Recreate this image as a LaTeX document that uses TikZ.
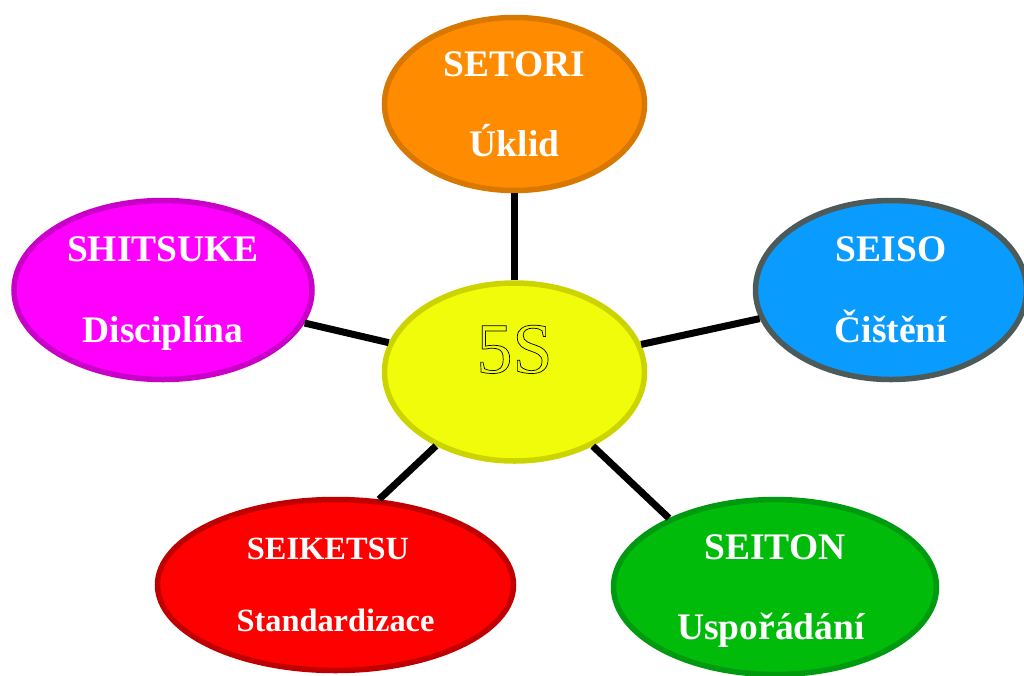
\documentclass[tikz,border=0pt]{standalone}
\usepackage{fontspec}
\setmainfont{Liberation Serif}
\usepackage{xcolor}
\usetikzlibrary{positioning,shapes.geometric}

\definecolor{setoriFill}{HTML}{FF8C00}
\definecolor{setoriLine}{HTML}{D97800}
\definecolor{shitsukeFill}{HTML}{FF00FF}
\definecolor{shitsukeLine}{HTML}{C800C8}
\definecolor{seisoFill}{HTML}{0A9BFF}
\definecolor{seisoLine}{HTML}{4D5A5A}
\definecolor{seiketsuFill}{HTML}{FF0000}
\definecolor{seiketsuLine}{HTML}{C00000}
\definecolor{seitonFill}{HTML}{00BB0A}
\definecolor{seitonLine}{HTML}{009A10}
\definecolor{coreFill}{HTML}{F0FC0A}
\definecolor{coreLine}{HTML}{CCD400}

% hollow letters: stroke only
\newcommand{\hollowtext}[1]{%
  \special{pdf:literal direct 1 Tr 0.7 w}#1\special{pdf:literal direct 0 Tr}}

\begin{document}
\begin{tikzpicture}[
    x=1pt, y=-1pt,
    pillar/.style={
      shape=ellipse, line width=5.5pt, inner sep=0pt, align=center,
      text=white, text depth=0pt, draw=#1Line, fill=#1Fill},
    link/.style={line width=7pt, draw=black}]
  \useasboundingbox (0,0) rectangle (1024,675);

  \node[pillar=core, minimum width=260, minimum height=178, text=black,
    text depth=46pt, font=\fontsize{72}{80}\selectfont] (core) at (514.5,372)
    {\hollowtext{5S}};

  \foreach \name/\dx/\dy/\w/\h/\fs/\ls/\txt in {
    setori/0/-268/260/173/37.5/80/{SETORI \\ Úklid},
    shitsuke/-351.5/-82/298/179/37.5/81/{SHITSUKE \\ Disciplína},
    seiso/376.5/-82/271/179/37.5/81/{SEISO \\ Čištění},
    seiketsu/-179/213/356/171/32.4/72/{SEIKETSU\kern15pt \\ Standardizace},
    seiton/260.5/215/323/175/37.5/80/{SEITON \\ Uspořádání\kern8pt}}
  \node[pillar=\name, minimum width=\w, minimum height=\h,
    font=\bfseries\fontsize{\fs}{\ls}\selectfont]
    (\name) at ([shift={(\dx,\dy)}] core) {\txt};

  \draw[link] (core) -- (setori);
  \draw[link] (core) -- (shitsuke);
  \draw[link] (core) -- (seiso);
  \draw[link] (core) -- (seiketsu.63);
  \draw[link] (core) -- (seiton.147);
\end{tikzpicture}
\end{document}
